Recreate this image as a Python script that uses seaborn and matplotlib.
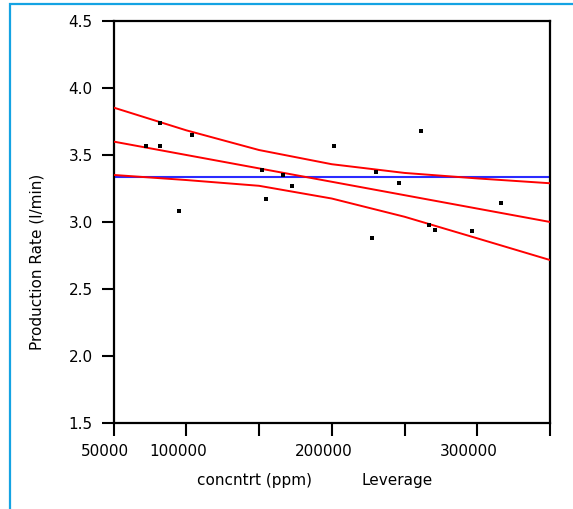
import numpy as np
import pandas as pd
import matplotlib
matplotlib.use("Agg")
import matplotlib.pyplot as plt
import matplotlib.transforms as mtransforms
from matplotlib.patches import Rectangle
import seaborn as sns

# leverage residuals
conc = [72130, 82170, 82170, 95220, 103950, 152060, 155020, 166290, 172680,
        201550, 227670, 230620, 246430, 261340, 267050, 271170, 296190, 316330]
rate = [3.57, 3.74, 3.57, 3.08, 3.65, 3.39, 3.17, 3.35, 3.27,
        3.57, 2.88, 3.37, 3.29, 3.68, 2.98, 2.94, 2.93, 3.14]

# fit line and confidence curves
band_x = [50000, 100000, 150000, 200000, 250000, 300000, 350000]
fit_y = [3.60, 3.50, 3.40, 3.30, 3.20, 3.10, 3.00]
upper_y = [3.854, 3.684, 3.537, 3.431, 3.366, 3.325, 3.289]
lower_y = [3.351, 3.313, 3.270, 3.175, 3.039, 2.878, 2.716]
mean_rate = 3.334

x_ticks = [50000, 100000, 150000, 200000, 250000, 300000, 350000]
x_ticklabels = ["50000", "100000", "", "200000", "", "300000", ""]
y_ticks = [1.5, 2.0, 2.5, 3.0, 3.5, 4.0, 4.5]

pts = pd.DataFrame({"conc": conc, "rate": rate})
bands = pd.DataFrame({"x": band_x, "fit": fit_y, "upper": upper_y, "lower": lower_y})

sns.set_style("ticks")
plt.rcParams["font.family"] = ["DejaVu Sans"]
plt.rcParams["text.color"] = "black"
plt.rcParams["axes.labelcolor"] = "black"

fig = plt.figure(figsize=(5.73, 5.09), dpi=100)
ax = fig.add_axes([0.1981, 0.169, 0.7618, 0.7898])

# cyan frame (left and top edges visible)
fig.patches.append(Rectangle((9.5 / 573, -0.5), 2.0, 0.9912 + 0.5, transform=fig.transFigure,
                             fill=False, edgecolor="#14a3e3", linewidth=1.6, zorder=0))

ax.axhline(mean_rate, color="#2b2bff", linewidth=1.5, zorder=2)
for col in ["upper", "fit", "lower"]:
    sns.lineplot(data=bands, x="x", y=col, color="red", linewidth=1.4, ax=ax, zorder=3)
sns.scatterplot(data=pts, x="conc", y="rate", marker="s", color="black", s=9,
                linewidth=0, ax=ax, zorder=4)

ax.set_xlim(50000, 350000)
ax.set_ylim(1.5, 4.5)
ax.set_xticks(x_ticks)
ax.set_xticklabels(x_ticklabels)
ax.set_yticks(y_ticks)
ax.set_yticklabels([f"{v:.1f}" for v in y_ticks])
ax.tick_params(axis="both", direction="out", length=9, width=1.5, labelsize=11,
               colors="black", pad=6)
offset = mtransforms.ScaledTranslation(-8.5 / 100, 0, fig.dpi_scale_trans)
for lab in ax.get_xticklabels():
    lab.set_transform(lab.get_transform() + offset)

for sp in ax.spines.values():
    sp.set_visible(True)
    sp.set_color("black")
    sp.set_linewidth(1.6)

ax.set_ylabel("Production Rate (l/min)", fontsize=11, va="center", color="black")
ax.yaxis.set_label_coords(-0.1746, 0.40)
ax.set_xlabel("concntrt (ppm)", fontsize=11, va="center", color="black")
ax.xaxis.set_label_coords(0.322, -0.142)
ax.text(0.6495, -0.142, "Leverage", transform=ax.transAxes, fontsize=11,
        ha="center", va="center", color="black")

fig.savefig("out.png", dpi=100)
